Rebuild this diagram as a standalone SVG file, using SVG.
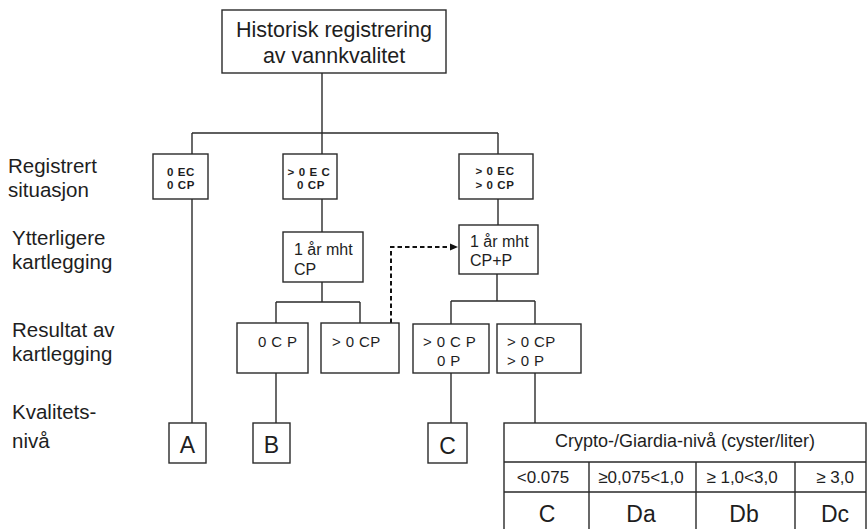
<svg xmlns="http://www.w3.org/2000/svg" width="867" height="529" viewBox="0 0 867 529">
<style>
  .box{fill:#fff;stroke:#2a2a2a;stroke-width:1.4}
  .ln{fill:none;stroke:#2a2a2a;stroke-width:1.4}
  .dash{fill:none;stroke:#111;stroke-width:2;stroke-dasharray:4.5 3}
  text{font-family:"Liberation Sans",Arial,sans-serif;fill:#1e1e1e}
  .lbl{font-size:20.5px}
  .top{font-size:21.5px;text-anchor:middle}
  .sm{font-size:11.5px;font-weight:bold;text-anchor:middle;letter-spacing:0.6px}
  .mid{font-size:16px}
  .res{font-size:15px;letter-spacing:0.4px}
  .lev{font-size:23px;text-anchor:middle}
  .th{font-size:18px;text-anchor:middle}
  .tc{font-size:17px;text-anchor:middle}
</style>
<defs>
  <marker id="arr" markerWidth="8" markerHeight="8" refX="7" refY="4" orient="auto" markerUnits="userSpaceOnUse">
    <path d="M0,0.5 L8,4 L0,7.5 Z" fill="#111"/>
  </marker>
</defs>
<rect width="867" height="529" fill="#fff"/>

<g id="row-labels">
  <text class="lbl" x="8" y="173">Registrert</text>
  <text class="lbl" x="8" y="197">situasjon</text>
  <text class="lbl" x="12" y="245">Ytterligere</text>
  <text class="lbl" x="12" y="269">kartlegging</text>
  <text class="lbl" x="12" y="337">Resultat av</text>
  <text class="lbl" x="12" y="361">kartlegging</text>
  <text class="lbl" x="12" y="419">Kvalitets-</text>
  <text class="lbl" x="12" y="448">nivå</text>
</g>

<g id="connectors">
  <path class="ln" d="M322 73 V154"/>
  <path class="ln" d="M192 133 H498"/>
  <path class="ln" d="M192 133 V154"/>
  <path class="ln" d="M498 133 V154"/>
  <path class="ln" d="M192 199 V423"/>
  <path class="ln" d="M322 199 V232"/>
  <path class="ln" d="M322 282 V302 M276 302 H360 M276 302 V323 M360 302 V323"/>
  <path class="ln" d="M498 199 V225"/>
  <path class="ln" d="M497 274 V301 M451 301 H535 M451 301 V324 M535 301 V324"/>
  <path class="ln" d="M276 373 V423"/>
  <path class="ln" d="M451 373 V423"/>
  <path class="ln" d="M535 373 V423"/>
  <path class="dash" d="M391 323 V247 H457" marker-end="url(#arr)"/>
</g>

<g id="n-top">
  <rect class="box" x="222" y="10" width="224" height="63"/>
  <text class="top" x="334" y="37">Historisk registrering</text>
  <text class="top" x="334" y="63">av vannkvalitet</text>
</g>

<g id="n-reg1">
  <rect class="box" x="153" y="154" width="55" height="45"/>
  <text class="sm" x="181" y="176">0 EC</text>
  <text class="sm" x="181" y="189">0 CP</text>
</g>
<g id="n-reg2">
  <rect class="box" x="283" y="154" width="54" height="45"/>
  <text class="sm" x="309" y="176">&gt; 0 E C</text>
  <text class="sm" x="311" y="189">0 CP</text>
</g>
<g id="n-reg3">
  <rect class="box" x="459" y="154" width="74" height="45"/>
  <text class="sm" x="495" y="175">&gt; 0 EC</text>
  <text class="sm" x="495" y="189">&gt; 0 CP</text>
</g>

<g id="n-kart1">
  <rect class="box" x="283" y="232" width="80" height="50"/>
  <text class="mid" x="294" y="255">1 år mht</text>
  <text class="mid" x="294" y="275">CP</text>
</g>
<g id="n-kart2">
  <rect class="box" x="459" y="225" width="79" height="49"/>
  <text class="mid" x="470" y="247">1 år mht</text>
  <text class="mid" x="470" y="266">CP+P</text>
</g>

<g id="n-res1">
  <rect class="box" x="237" y="323" width="71" height="50"/>
  <text class="res" x="258" y="347">0 C P</text>
</g>
<g id="n-res2">
  <rect class="box" x="321" y="323" width="78" height="50"/>
  <text class="res" x="332" y="347">&gt; 0 CP</text>
</g>
<g id="n-res3">
  <rect class="box" x="413" y="324" width="76" height="49"/>
  <text class="res" x="423" y="347">&gt; 0 C P</text>
  <text class="res" x="437" y="366">0 P</text>
</g>
<g id="n-res4">
  <rect class="box" x="497" y="324" width="84" height="49"/>
  <text class="res" x="507" y="347">&gt;  0 CP</text>
  <text class="res" x="507" y="366">&gt;  0 P</text>
</g>

<g id="n-A">
  <rect class="box" x="169" y="423" width="37" height="40"/>
  <text class="lev" x="187.5" y="453">A</text>
</g>
<g id="n-B">
  <rect class="box" x="253" y="423" width="37" height="40"/>
  <text class="lev" x="271.5" y="453">B</text>
</g>
<g id="n-C">
  <rect class="box" x="428" y="423" width="39" height="40"/>
  <text class="lev" x="447.5" y="454">C</text>
</g>

<g id="n-table">
  <rect class="box" x="504" y="423" width="362" height="115"/>
  <path class="ln" d="M504 462 H866 M504 492 H866 M589 462 V529 M696 462 V529 M795 462 V529"/>
  <text class="th" x="685" y="447">Crypto-/Giardia-nivå (cyster/liter)</text>
  <text class="tc" x="543" y="483">&lt;0.075</text>
  <text class="tc" x="641" y="483">≥0,075&lt;1,0</text>
  <text class="tc" x="742" y="483">≥ 1,0&lt;3,0</text>
  <text class="tc" x="835" y="483">≥ 3,0</text>
  <text class="lev" x="547" y="522">C</text>
  <text class="lev" x="641" y="522">Da</text>
  <text class="lev" x="744" y="522">Db</text>
  <text class="lev" x="835" y="522">Dc</text>
</g>
</svg>
